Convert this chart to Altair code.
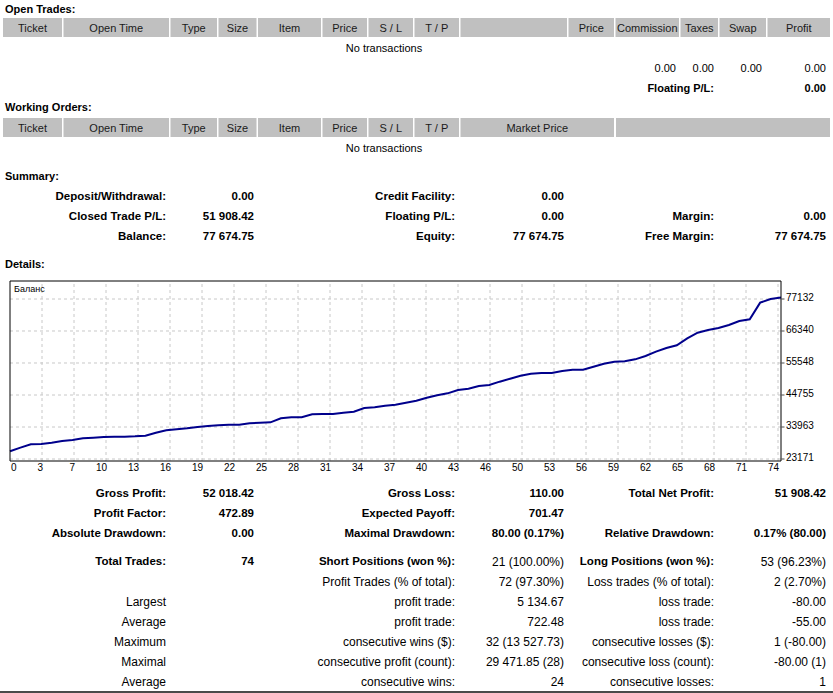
import altair as alt
import pandas as pd

W, H = 833, 693
FONT = "Liberation Sans"

balance = [25766, 26993, 28117, 28230, 28679, 29242, 29579, 30141, 30366, 30591,
           30703, 30703, 30816, 31041, 32052, 32839, 33176, 33514, 33963, 34301,
           34525, 34750, 34750, 35200, 35425, 35537, 36886, 37223, 37223, 38235,
           38348, 38348, 38797, 39135, 40371, 40596, 41158, 41495, 42170, 42844,
           43856, 44643, 45317, 46442, 46891, 47791, 48128, 49252, 50264, 51276,
           51950, 52175, 52175, 52850, 53299, 53299, 54311, 55323, 55997, 56110,
           56785, 57909, 59370, 60607, 61506, 63867, 65778, 66678, 67352, 68364,
           69713, 70275, 75894, 77133, 77675]
trade_no = list(range(len(balance)))
x_tick_labels = ["0", "3", "7", "10", "13", "16", "19", "22", "25", "28", "31", "34", "37",
                 "40", "43", "46", "50", "53", "56", "59", "62", "65", "68", "71", "74"]
y_tick_values = [23171, 33963, 44755, 55548, 66340, 77132]
chart_caption = "Баланс"

section_titles = ["Open Trades:", "Working Orders:", "Summary:", "Details:"]
open_headers = ["Ticket", "Open Time", "Type", "Size", "Item", "Price", "S / L", "T / P", "",
                "Price", "Commission", "Taxes", "Swap", "Profit"]
order_headers = ["Ticket", "Open Time", "Type", "Size", "Item", "Price", "S / L", "T / P",
                 "Market Price", ""]
no_tx = "No transactions"
open_totals = ["0.00", "0.00", "0.00", "0.00"]
floating_label, floating_value = "Floating P/L:", "0.00"

summary_rows = [
    ["Deposit/Withdrawal:", "0.00", "Credit Facility:", "0.00", "", ""],
    ["Closed Trade P/L:", "51 908.42", "Floating P/L:", "0.00", "Margin:", "0.00"],
    ["Balance:", "77 674.75", "Equity:", "77 674.75", "Free Margin:", "77 674.75"],
]
detail_rows = [
    ["Gross Profit:", "52 018.42", "Gross Loss:", "110.00", "Total Net Profit:", "51 908.42"],
    ["Profit Factor:", "472.89", "Expected Payoff:", "701.47", "", ""],
    ["Absolute Drawdown:", "0.00", "Maximal Drawdown:", "80.00 (0.17%)", "Relative Drawdown:", "0.17% (80.00)"],
    ["Total Trades:", "74", "Short Positions (won %):", "21 (100.00%)", "Long Positions (won %):", "53 (96.23%)"],
    ["", "", "Profit Trades (% of total):", "72 (97.30%)", "Loss trades (% of total):", "2 (2.70%)"],
    ["Largest", "", "profit trade:", "5 134.67", "loss trade:", "-80.00"],
    ["Average", "", "profit trade:", "722.48", "loss trade:", "-55.00"],
    ["Maximum", "", "consecutive wins ($):", "32 (13 527.73)", "consecutive losses ($):", "1 (-80.00)"],
    ["Maximal", "", "consecutive profit (count):", "29 471.85 (28)", "consecutive loss (count):", "-80.00 (1)"],
    ["Average", "", "consecutive wins:", "24", "consecutive losses:", "1"],
]

# ---------------- layout (pixels) ----------------
title_x = 5
title_y = [9, 107, 176, 264]
open_cells = [(3, 62), (63.5, 169), (170.5, 217), (218.5, 256.5), (258, 321), (322.5, 367),
              (368.5, 413), (414.5, 459), (460.5, 567), (568.5, 614), (615.5, 679), (680.5, 718),
              (719.5, 766), (767.5, 830)]
order_cells = open_cells[:8] + [(460.5, 614), (616, 830)]
open_head_y, order_head_y = (18, 37), (118, 137)
no_tx_x, no_tx_y = 384, [48, 148]
totals_x, totals_y = [676, 714, 762, 826], 68
floating_y = 88
col_right = [166, 254, 455, 564, 714, 826]
summary_y = [196, 216, 236]
detail_y = [492.5, 512.5, 532.5, 561, 581, 601, 621, 641, 661, 681]
# which cells of the detail table are bold (row, column)
detail_bold = {(r, c) for r in range(3) for c in range(6)} | {(3, c) for c in (0, 1, 2, 4)}

PLOT_L, PLOT_R, PLOT_T, PLOT_B = 10, 781, 281, 461
GRID_STEP = 32

n_grid = len(x_tick_labels) - 1
n_trades = len(balance) - 1
tick_pos = [k * GRID_STEP * n_trades / (PLOT_R - PLOT_L) for k in range(n_grid + 1)]
y_px = (y_tick_values[-1] - y_tick_values[0]) / ((PLOT_B - 2) - (PLOT_T + 18))
y_lo = y_tick_values[0] - 2 * y_px
y_hi = y_tick_values[-1] + 18 * y_px

PX = alt.Scale(domain=[0, W], range=[0, W], nice=False, zero=False)
PY = alt.Scale(domain=[0, H], range=[0, H], nice=False, zero=False)
XS = alt.Scale(domain=[0, n_trades], range=[PLOT_L, PLOT_R], nice=False, zero=False)
YS = alt.Scale(domain=[y_lo, y_hi], range=[PLOT_B, PLOT_T], nice=False, zero=False)


def page_text(rows, align, weight="normal", size=11, color="#000000"):
    df = pd.DataFrame(rows, columns=["text", "x", "y"])
    df = df[df["text"] != ""]
    return alt.Chart(df).mark_text(
        align=align, baseline="middle", dy=1, font=FONT, fontSize=size,
        fontWeight=weight, color=color
    ).encode(
        x=alt.X("x:Q", scale=PX, axis=None),
        y=alt.Y("y:Q", scale=PY, axis=None),
        text="text:N",
    )


# ---------------- page (tables) ----------------
rect_rows = []
head_text = []
for headers, cells, (y0, y1) in [(open_headers, open_cells, open_head_y),
                                 (order_headers, order_cells, order_head_y)]:
    for h, (a, b) in zip(headers, cells):
        rect_rows.append([a, b, y0, y1])
        head_text.append([h, (a + b) / 2, (y0 + y1) / 2])
rect_df = pd.DataFrame(rect_rows, columns=["x0", "x1", "y0", "y1"])
header_rects = alt.Chart(rect_df).mark_rect(color="#C0C0C0").encode(
    x=alt.X("x0:Q", scale=PX, axis=None), x2="x1:Q",
    y=alt.Y("y0:Q", scale=PY, axis=None), y2="y1:Q",
)

bottom_df = pd.DataFrame([[0, W, 691, 693]], columns=["x0", "x1", "y0", "y1"])
bottom_bar = alt.Chart(bottom_df).mark_rect(color="#4A4A4A").encode(
    x=alt.X("x0:Q", scale=PX, axis=None), x2="x1:Q",
    y=alt.Y("y0:Q", scale=PY, axis=None), y2="y1:Q",
)

titles = [[t, title_x, y] for t, y in zip(section_titles, title_y)]
centered = [[no_tx, no_tx_x, y] for y in no_tx_y]
top_right_reg = [[v, x, totals_y] for v, x in zip(open_totals, totals_x)]
top_right_bold = [[floating_label, totals_x[1], floating_y], [floating_value, totals_x[3], floating_y]]

low_bold = []
low_reg = []
for row, y in zip(summary_rows, summary_y):
    for j, v in enumerate(row):
        low_bold.append([v, col_right[j], y])
for r, (row, y) in enumerate(zip(detail_rows, detail_y)):
    for j, v in enumerate(row):
        (low_bold if (r, j) in detail_bold else low_reg).append([v, col_right[j], y])

page = alt.layer(
    header_rects,
    bottom_bar,
    page_text(head_text, "center", color="#1A1A1A"),
    page_text(titles, "left", weight="bold"),
    page_text(centered, "center"),
    page_text(top_right_reg, "right"),
    page_text(top_right_bold, "right", weight="bold"),
    page_text(low_bold, "right", weight="bold", size=11.5),
    page_text(low_reg, "right", size=12),
)

# ---------------- balance chart ----------------
line_df = pd.DataFrame({"trade": trade_no, "balance": balance})
vg_df = pd.DataFrame({"x": tick_pos[1:], "y0": y_lo, "y1": y_hi})
hg_df = pd.DataFrame({"y": y_tick_values, "x0": 0.0, "x1": float(n_trades)})
frame_df = pd.DataFrame([[0.0, float(n_trades), y_lo, y_hi]], columns=["x0", "x1", "y0", "y1"])
xl_df = pd.DataFrame({"x": tick_pos, "y": y_lo, "text": x_tick_labels, "k": range(len(tick_pos))})
yl_df = pd.DataFrame({"y": y_tick_values, "x": float(n_trades), "text": [str(v) for v in y_tick_values]})
cap_df = pd.DataFrame({"x": [0.0], "y": [y_hi], "text": [chart_caption]})

grid_style = dict(color="#C8C8C8", strokeDash=[3, 3], strokeWidth=1)
vgrid = alt.Chart(vg_df).mark_rule(**grid_style).encode(
    x=alt.X("x:Q", scale=XS, axis=None), y=alt.Y("y0:Q", scale=YS, axis=None), y2="y1:Q")
hgrid = alt.Chart(hg_df).mark_rule(**grid_style).encode(
    x=alt.X("x0:Q", scale=XS, axis=None), x2="x1:Q", y=alt.Y("y:Q", scale=YS, axis=None))
line = alt.Chart(line_df).mark_line(color="#00008C", strokeWidth=2).encode(
    x=alt.X("trade:Q", scale=XS, axis=None), y=alt.Y("balance:Q", scale=YS, axis=None))
frame = alt.Chart(frame_df).mark_rect(fillOpacity=0, stroke="#000000", strokeWidth=1).encode(
    x=alt.X("x0:Q", scale=XS, axis=None), x2="x1:Q",
    y=alt.Y("y0:Q", scale=YS, axis=None), y2="y1:Q")
yticks = alt.Chart(yl_df).mark_tick(orient="horizontal", size=3, thickness=1, color="#000000",
                                    xOffset=2).encode(
    x=alt.X("x:Q", scale=XS, axis=None), y=alt.Y("y:Q", scale=YS, axis=None))
label_style = dict(baseline="middle", font=FONT, fontSize=10, color="#000000")
xlab_first = alt.Chart(xl_df).transform_filter("datum.k == 0").mark_text(
    align="left", dx=1, dy=7, **label_style).encode(
    x=alt.X("x:Q", scale=XS, axis=None), y=alt.Y("y:Q", scale=YS, axis=None), text="text:N")
xlab_rest = alt.Chart(xl_df).transform_filter("datum.k > 0").mark_text(
    align="right", dx=1, dy=7, **label_style).encode(
    x=alt.X("x:Q", scale=XS, axis=None), y=alt.Y("y:Q", scale=YS, axis=None), text="text:N")
ylab = alt.Chart(yl_df).mark_text(align="left", dx=5, dy=-1, **label_style).encode(
    x=alt.X("x:Q", scale=XS, axis=None), y=alt.Y("y:Q", scale=YS, axis=None), text="text:N")
caption = alt.Chart(cap_df).mark_text(align="left", baseline="middle", dx=4, dy=8,
                                      font=FONT, fontSize=9, color="#000000").encode(
    x=alt.X("x:Q", scale=XS, axis=None), y=alt.Y("y:Q", scale=YS, axis=None), text="text:N")

balance_chart = alt.layer(vgrid, hgrid, line, frame, yticks, xlab_first, xlab_rest, ylab, caption)

chart = alt.layer(page, balance_chart).resolve_scale(
    x="independent", y="independent"
).properties(
    width=W, height=H, padding=0, autosize="none", background="#FFFFFF"
).configure_view(strokeWidth=0)

chart.save("out.html", embed_options={"renderer": "svg", "actions": False})
